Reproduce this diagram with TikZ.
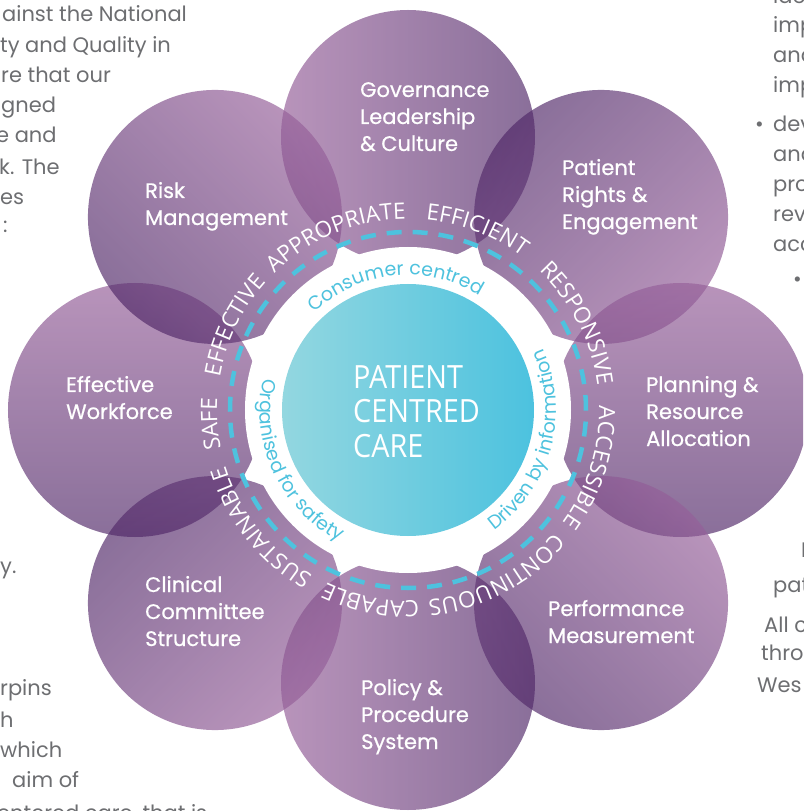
\documentclass[tikz,border=0pt]{standalone}
\usepackage{fontspec}
\setmainfont{Poppins}
\newfontfamily\ringfont{Open Sans}
\newfontfamily\corefont{Open Sans}[FakeStretch=0.9]
\newfontfamily\labelfont{Poppins}[FakeBold=0.6]
\usetikzlibrary{decorations.text}
\definecolor{petallight}{HTML}{955F99}
\definecolor{petaldark}{HTML}{502868}
\definecolor{ringcyan}{HTML}{4EC2DE}
\definecolor{corelight}{HTML}{93D7E0}
\definecolor{coredark}{HTML}{4CC2DF}
\definecolor{bodygray}{HTML}{6D6E71}
\newcommand{\ringtxt}{\ringfont\fontsize{22.5}{22.5}\selectfont}
\newcommand{\innertxt}{\fontsize{19}{19}\selectfont}
% word on the outer ring, read clockwise, centred on angle #1
\newcommand{\outerword}[2]{%
  \path[decorate,decoration={text along path,text={|\ringtxt|#2},text align=center,text color=white}]
    ({#1+50}:191) arc[start angle={#1+50},end angle={#1-50},radius=191];}
% word on the inner ring, from angle #1 to angle #2
\newcommand{\innerword}[4]{%
  \path[decorate,decoration={text along path,text={|\innertxt|#4},text align=center,text color=ringcyan}]
    (#1:#3) arc[start angle=#1,end angle=#2,radius=#3];}
\tikzset{
  petal/.style={top color=petallight,bottom color=petaldark,fill opacity=0.67,shading angle=#1},
  petaltext/.style={text=white,font=\labelfont\fontsize{21}{27}\selectfont,align=left,anchor=base west,inner sep=0pt},
  coretext/.style={text=white,font=\corefont\fontsize{32}{34.5}\selectfont,align=left,anchor=base west,inner sep=0pt},
  bodytext/.style={text=bodygray,font=\fontsize{21}{30}\selectfont,anchor=base west,inner sep=0pt},
}

\begin{document}
\begin{tikzpicture}[x=1pt,y=1pt]
\useasboundingbox (-408,-401) rectangle (395,410);
\clip (-408,-401) rectangle (395,410);
% page text around the wheel
\foreach \txt/\x/\y [count=\i] in {ainst the National/-406/388, ty and Quality in/-408/357,
    re that our/-407/327, gned/-407/297, e and/-412/267, k. The/-409/235, es/-408/205, :/-405/177,
    y./-408/-163, rpins/-408/-285, h/-408/-317, which/-408/-347, aim of/-396/-377,
    {entered care, that is}/-411/-410,
    ide/365/406, imp/365/377, and/365/347, imp/365/317, dev/365/278, and/365/248,
    pro/365/218, rev/365/188, acc/365/158,
    I/393/-147, pat/365/-182, All c/356/-222, thro/353/-250, Wes/349/-282}
  \node[bodytext] (pg\i) at (\x,\y) {\txt};
\node[bodytext] (dot1) at (347,278) {•};
\node[bodytext] (dot2) at (385,123) {•};
% eight petals
\foreach \ang/\sh in {90/90,45/225,0/0,-45/-45,-90/90,-135/225,180/0,135/-45}
  \shade[petal=\sh] (\ang:273) circle[radius=127];
\fill[white] (0,0) circle[radius=163];
\shade[left color=corelight,right color=coredark] (0,0) circle[radius=126];
\draw[ringcyan,line width=4.5pt,dash pattern=on 15pt off 11pt] (0,0) circle[radius=178];
% quality dimensions
\outerword{184}{SAFE}
\outerword{154}{EFFECTIVE}
\outerword{112.5}{APPROPRIATE}
\outerword{69}{EFFICIENT}
\outerword{27}{RESPONSIVE}
\outerword{-17.5}{ACCESSIBLE}
\outerword{-62}{CONTINUOUS}
\outerword{-101}{CAPABLE}
\outerword{-141.5}{SUSTAINABLE}
\innerword{156}{36}{135}{Consumer centred}
\innerword{-75}{45}{148}{Driven by information}
\innerword{145}{265}{148}{Organised for safety}
% petal labels (placed at the baseline of their last line)
\node[petaltext] (gov) at (-48,259) {Governance\\Leadership\\\& Culture};
\node[petaltext] (rights) at (154,181) {Patient\\Rights \&\\Engagement};
\node[petaltext] (plan) at (238,-36) {Planning \&\\Resource\\Allocation};
\node[petaltext] (perf) at (140,-233) {Performance\\Measurement};
\node[petaltext] (policy) at (-47,-339) {Policy \&\\Procedure\\System};
\node[petaltext] (clin) at (-263,-236) {Clinical\\Committee\\Structure};
\node[petaltext] (work) at (-342,-9) {Effective\\Workforce};
\node[petaltext] (risk) at (-263,185) {Risk\\Management};
\node[coretext] (core) at (-55,-47) {PATIENT\\CENTRED\\CARE};
\end{tikzpicture}
\end{document}
